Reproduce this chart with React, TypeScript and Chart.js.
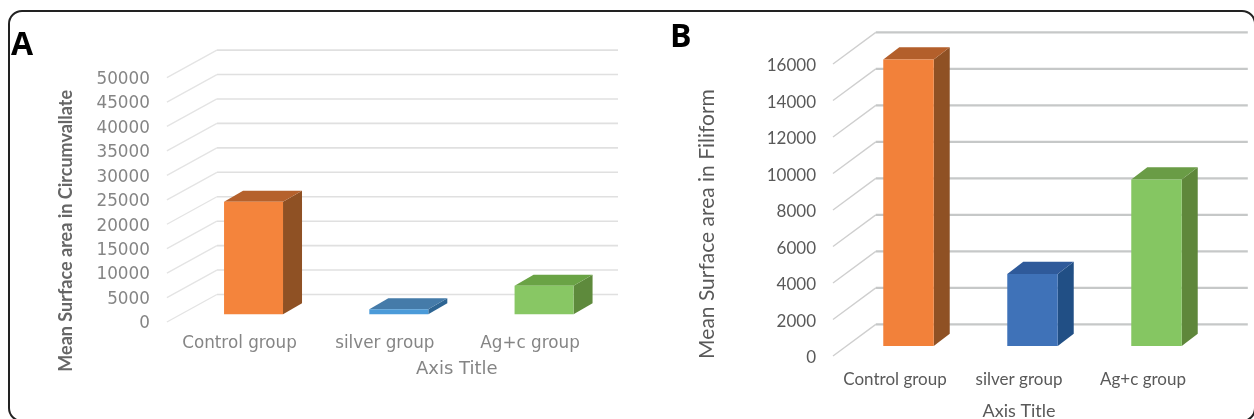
import React, { useEffect, useRef } from "react";
import { Chart, registerables } from "chart.js";

Chart.register(...registerables);

const categories = ["Control group", "silver group", "Ag+c group"];
const circumvallateValues = [23040, 1020, 5850];
const filiformValues = [15700, 3940, 9120];
const circumvallateMax = 50000;
const circumvallateStep = 5000;
const filiformMax = 16000;
const filiformStep = 2000;

const panelAColors = {
  front: ["#f4843c", "#4b9bd9", "#88c764"],
  side: ["#8f5124", "#2e6593", "#5e8a3c"],
  top: ["#b5612c", "#457ba9", "#6aa345"],
};
const panelBColors = {
  front: ["#f2813a", "#3f72b8", "#85c662"],
  side: ["#8f5124", "#214f85", "#5f873b"],
  top: ["#b35f2b", "#2f5a9a", "#6a9c46"],
};

const depthPlugin = {
  id: "depth3d",
  afterLayout(chart: any, _a: any, o: any) {
    const wrap = (scale: any, method: string, dx: number, dy: number) => {
      const key = "__wrapped_" + method;
      if (scale[key]) return;
      scale[key] = true;
      const original = scale[method];
      scale[method] = function (...args: any[]) {
        const c = this.ctx;
        c.save();
        c.translate(dx, dy);
        original.apply(this, args);
        c.restore();
      };
    };
    wrap(chart.scales.y, "drawTitle", o.yTitleShift[0], o.yTitleShift[1]);
    wrap(chart.scales.x, "drawTitle", o.xTitleShift[0], o.xTitleShift[1]);
    wrap(chart.scales.y, "drawLabels", 0, o.yLabelShift);
  },
  beforeDatasetsDraw(chart: any, _a: any, o: any) {
    const { ctx, scales, chartArea } = chart;
    const y = scales.y;
    ctx.save();
    ctx.beginPath();
    ctx.rect(0, 0, o.gridRight, chart.height);
    ctx.clip();
    y.ticks.forEach((t: any) => {
      const py = y.getPixelForValue(t.value);
      ctx.strokeStyle = o.diagColor;
      ctx.lineWidth = o.diagWidth;
      ctx.beginPath();
      ctx.moveTo(chartArea.left, py);
      ctx.lineTo(chartArea.left + o.wallX, py - o.wallY);
      ctx.stroke();
      ctx.strokeStyle = o.gridColor;
      ctx.lineWidth = o.gridWidth;
      ctx.beginPath();
      ctx.moveTo(chartArea.left + o.wallX, py - o.wallY);
      ctx.lineTo(chartArea.right + o.wallX, py - o.wallY);
      ctx.stroke();
    });
    ctx.restore();

    ctx.save();
    ctx.translate(o.shiftX, -o.shiftY);
    chart.getDatasetMeta(0).data.forEach((bar: any, i: number) => {
      const l = bar.x - bar.width / 2;
      const r = bar.x + bar.width / 2;
      ctx.fillStyle = o.colors.side[i];
      ctx.beginPath();
      ctx.moveTo(r, bar.y);
      ctx.lineTo(r + o.barX, bar.y - o.barY);
      ctx.lineTo(r + o.barX, bar.base - o.barY);
      ctx.lineTo(r, bar.base);
      ctx.closePath();
      ctx.fill();
      ctx.fillStyle = o.colors.top[i];
      ctx.beginPath();
      ctx.moveTo(l, bar.y);
      ctx.lineTo(l + o.barX, bar.y - o.barY);
      ctx.lineTo(r + o.barX, bar.y - o.barY);
      ctx.lineTo(r, bar.y);
      ctx.closePath();
      ctx.fill();
    });
  },
  afterDatasetsDraw(chart: any) {
    chart.ctx.restore();
  },
};

function makeChart(canvas: HTMLCanvasElement, c: any) {
  return new Chart(canvas, {
    type: "bar",
    data: {
      labels: categories,
      datasets: [
        {
          data: c.values,
          backgroundColor: c.colors.front,
          barPercentage: c.barPercentage,
          categoryPercentage: 1,
          clip: false,
        } as any,
      ],
    },
    plugins: [depthPlugin],
    options: {
      animation: false,
      responsive: false,
      devicePixelRatio: 1,
      layout: { padding: { top: c.top, right: c.rightPad, left: 0, bottom: 0 } },
      plugins: {
        legend: { display: false },
        tooltip: { enabled: false },
        depth3d: c.depth,
      } as any,
      scales: {
        x: {
          grid: { display: false, drawTicks: false },
          border: { display: false },
          ticks: { color: c.tickColor, font: c.tickFont, padding: c.xPad, maxRotation: 0, autoSkip: false },
          title: { display: true, text: "Axis Title", color: c.xTitleColor, font: c.xTitleFont, padding: 0 },
          afterFit: (s: any) => {
            s.height = c.xHeight;
          },
        },
        y: {
          min: 0,
          max: c.max,
          ticks: {
            stepSize: c.step,
            color: c.tickColor,
            font: c.tickFont,
            padding: c.yPad,
            callback: (v: any) => String(v),
          },
          grid: { display: false, drawTicks: false },
          border: { display: false },
          title: { display: true, text: c.yTitle, color: c.yTitleColor, font: c.yTitleFont, padding: 0 },
          afterFit: (s: any) => {
            s.width = c.yWidth;
          },
        },
      },
    } as any,
  });
}

export default function App() {
  const a = useRef<HTMLCanvasElement>(null);
  const b = useRef<HTMLCanvasElement>(null);
  useEffect(() => {
    document.body.style.margin = "0";
    const ca = makeChart(a.current!, {
      values: circumvallateValues,
      colors: panelAColors,
      barPercentage: 0.406,
      top: 77.6,
      rightPad: 37.3,
      xHeight: 97,
      yWidth: 166.9,
      max: circumvallateMax,
      step: circumvallateStep,
      tickColor: "#858585",
      tickFont: { family: "DejaVu Sans", size: 16.8 },
      xTitleColor: "#858585",
      xTitleFont: { family: "DejaVu Sans", size: 18 },
      yTitleColor: "#666666",
      yTitleFont: { family: "Lato", size: 18, weight: "bold" },
      xPad: 12,
      yPad: 17,
      yTitle: "Mean Surface area in Circumvallate",
      depth: {
        gridRight: 618,
        wallX: 50,
        wallY: 27.5,
        shiftX: 14,
        shiftY: 7.7,
        barX: 19,
        barY: 11,
        colors: panelAColors,
        gridColor: "#e0e0e0",
        gridWidth: 1.6,
        diagColor: "#e4e4e4",
        diagWidth: 1.4,
        yTitleShift: [55, 31],
        xTitleShift: [72, -39],
        yLabelShift: 2,
      },
    });
    const cb = makeChart(b.current!, {
      values: filiformValues,
      colors: panelBColors,
      barPercentage: 0.407,
      top: 64,
      rightPad: 49,
      xHeight: 63,
      yWidth: 193,
      max: filiformMax,
      step: filiformStep,
      tickColor: "#595959",
      tickFont: { family: "Lato", size: 17 },
      xTitleColor: "#595959",
      xTitleFont: { family: "Lato", size: 18 },
      yTitleColor: "#595959",
      yTitleFont: { family: "Lato", size: 21 },
      xPad: 13,
      yPad: 17,
      yTitle: "Mean Surface area in Filiform",
      depth: {
        gridRight: 608,
        wallX: 42.8,
        wallY: 31.6,
        shiftX: 13.5,
        shiftY: 10,
        barX: 16,
        barY: 12.3,
        colors: panelBColors,
        gridColor: "#c6c8c8",
        gridWidth: 2.4,
        diagColor: "#cfcfcf",
        diagWidth: 1.4,
        yTitleShift: [55, 14],
        xTitleShift: [0, 3],
        yLabelShift: 2,
      },
    });
    return () => {
      ca.destroy();
      cb.destroy();
    };
  }, []);

  const letter = (text: string, left: number, top: number) => (
    <div
      style={{
        position: "absolute",
        left,
        top,
        font: "bold 32px/32px 'Open Sans'",
        color: "#000",
      }}
    >
      {text}
    </div>
  );

  return (
    <div style={{ position: "fixed", inset: 0, overflow: "hidden", background: "#fff" }}>
      <canvas ref={a} width={640} height={419} style={{ position: "absolute", left: 0, top: 0, display: "block" }} />
      <canvas ref={b} width={614} height={419} style={{ position: "absolute", left: 640, top: 0, display: "block" }} />
      <div
        style={{
          position: "absolute",
          left: 8,
          top: 9.5,
          width: 1244,
          height: 408,
          border: "2px solid #222",
          borderRadius: 14,
        }}
      />
      {letter("A", 11, 27)}
      {letter("B", 670, 19)}
    </div>
  );
}
